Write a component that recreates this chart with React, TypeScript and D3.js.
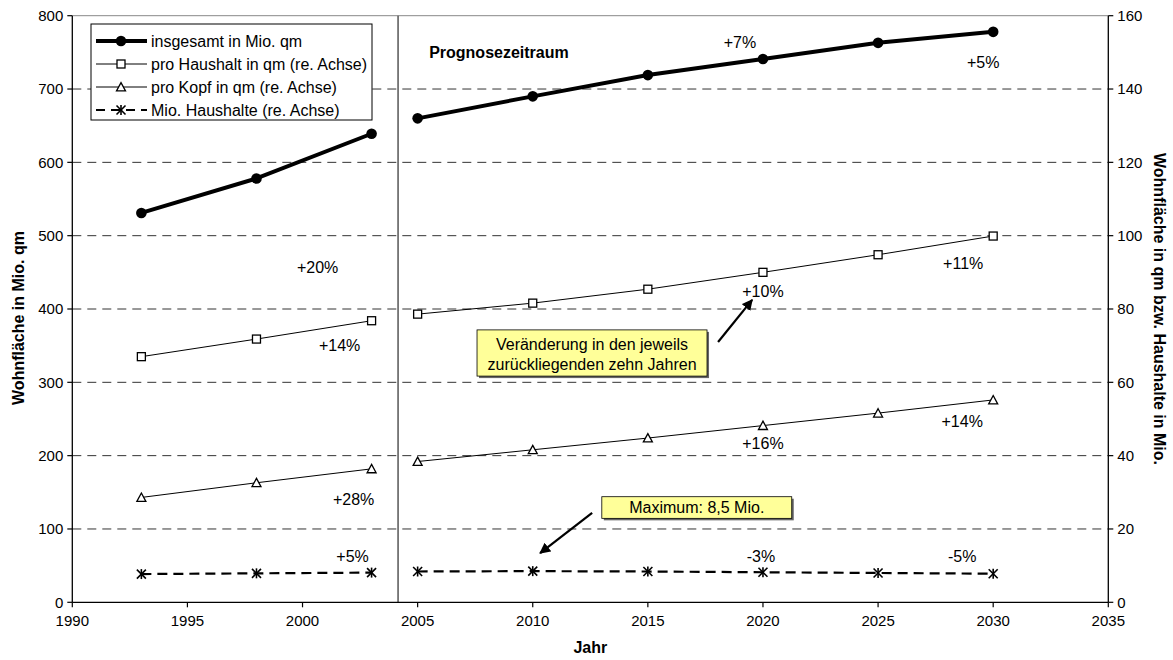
import React from "react";
import * as d3 from "d3";

// Years of the observed period and of the forecast period
const pastYears = [1993, 1998, 2003];
const forecastYears = [2005, 2010, 2015, 2020, 2025, 2030];

// Total living space in million m² (left axis)
const totalPast = [531, 578, 639];
const totalForecast = [660, 690, 719, 741, 763, 778];

// Living space per household in m² (right axis)
const perHouseholdPast = [67, 71.8, 76.8];
const perHouseholdForecast = [78.6, 81.6, 85.4, 90, 94.8, 99.9];

// Living space per capita in m² (right axis)
const perCapitaPast = [28.6, 32.6, 36.4];
const perCapitaForecast = [38.4, 41.6, 44.8, 48.2, 51.6, 55.2];

// Households in millions (right axis)
const householdsPast = [7.7, 7.9, 8.1];
const householdsForecast = [8.4, 8.5, 8.4, 8.2, 8.0, 7.8];

const xTicks = [1990, 1995, 2000, 2005, 2010, 2015, 2020, 2025, 2030, 2035];
const leftTicks = [0, 100, 200, 300, 400, 500, 600, 700, 800];
const rightTicks = [0, 20, 40, 60, 80, 100, 120, 140, 160];

const legendLabels = [
  "insgesamt in Mio. qm",
  "pro Haushalt in qm (re. Achse)",
  "pro Kopf in qm (re. Achse)",
  "Mio. Haushalte (re. Achse)",
];

const forecastStart = 2004.15;

const FONT = "'Liberation Sans', Arial, Helvetica, sans-serif";

const W = 1173;
const H = 660;
const left = 72.3;
const right = 1108.3;
const top = 15.7;
const bottom = 602.3;

const x = d3.scaleLinear().domain([1990, 2035]).range([left, right]);
const yL = d3.scaleLinear().domain([0, 800]).range([bottom, top]);
const yR = d3.scaleLinear().domain([0, 160]).range([bottom, top]);

type Pt = [number, number];
const pairs = (years: number[], vals: number[]): Pt[] =>
  years.map((yr, i) => [yr, vals[i]] as Pt);

function Square({ cx, cy }: { cx: number; cy: number }) {
  const s = 8;
  return <rect x={cx - s / 2} y={cy - s / 2} width={s} height={s} fill="#fff" stroke="#000" strokeWidth={1.3} />;
}
function Triangle({ cx, cy }: { cx: number; cy: number }) {
  const s = 9;
  const h = s * 0.87;
  return (
    <path
      d={`M${cx},${cy - h / 2 - 0.5}L${cx + s / 2},${cy + h / 2}L${cx - s / 2},${cy + h / 2}Z`}
      fill="#fff"
      stroke="#000"
      strokeWidth={1.3}
    />
  );
}
function Star({ cx, cy }: { cx: number; cy: number }) {
  const r = 4.5;
  return (
    <g stroke="#000" strokeWidth={1.6}>
      <line x1={cx - r} y1={cy - r} x2={cx + r} y2={cy + r} />
      <line x1={cx - r} y1={cy + r} x2={cx + r} y2={cy - r} />
      <line x1={cx} y1={cy - r - 0.5} x2={cx} y2={cy + r + 0.5} />
    </g>
  );
}
function Dot({ cx, cy }: { cx: number; cy: number }) {
  return <circle cx={cx} cy={cy} r={5.3} fill="#000" />;
}

type Series = {
  scale: d3.ScaleLinear<number, number>;
  segments: Pt[][];
  width: number;
  dash?: string;
  Marker: (p: { cx: number; cy: number }) => React.ReactElement;
};

const series: Series[] = [
  {
    scale: yL,
    segments: [pairs(pastYears, totalPast), pairs(forecastYears, totalForecast)],
    width: 4,
    Marker: Dot,
  },
  {
    scale: yR,
    segments: [pairs(pastYears, perHouseholdPast), pairs(forecastYears, perHouseholdForecast)],
    width: 1,
    Marker: Square,
  },
  {
    scale: yR,
    segments: [pairs(pastYears, perCapitaPast), pairs(forecastYears, perCapitaForecast)],
    width: 1,
    Marker: Triangle,
  },
  {
    scale: yR,
    segments: [pairs(pastYears, householdsPast), pairs(forecastYears, householdsForecast)],
    width: 2.2,
    dash: "10,6",
    Marker: Star,
  },
];

// Ten-year change labels, anchored to the data point they describe
type ChangeLabel = { text: string; year: number; value: number; scale: "L" | "R"; dx: number; dy: number };
const changeLabels: ChangeLabel[] = [
  { text: "+20%", year: 2003, value: totalPast[2], scale: "L", dx: -54, dy: 133 },
  { text: "+14%", year: 2003, value: perHouseholdPast[2], scale: "R", dx: -32, dy: 25 },
  { text: "+28%", year: 2003, value: perCapitaPast[2], scale: "R", dx: -18, dy: 30 },
  { text: "+5%", year: 2003, value: householdsPast[2], scale: "R", dx: -19, dy: -16 },
  { text: "+7%", year: 2020, value: totalForecast[3], scale: "L", dx: -23, dy: -17 },
  { text: "+5%", year: 2030, value: totalForecast[5], scale: "L", dx: -10, dy: 30 },
  { text: "+10%", year: 2020, value: perHouseholdForecast[3], scale: "R", dx: 0, dy: 19 },
  { text: "+11%", year: 2030, value: perHouseholdForecast[5], scale: "R", dx: -30, dy: 27 },
  { text: "+16%", year: 2020, value: perCapitaForecast[3], scale: "R", dx: 0, dy: 18 },
  { text: "+14%", year: 2030, value: perCapitaForecast[5], scale: "R", dx: -31, dy: 21 },
  { text: "-3%", year: 2020, value: householdsForecast[3], scale: "R", dx: -2, dy: -16 },
  { text: "-5%", year: 2030, value: householdsForecast[5], scale: "R", dx: -31, dy: -17 },
];

export default function App() {
  const line = (sc: d3.ScaleLinear<number, number>) =>
    d3
      .line<Pt>()
      .x((d) => x(d[0]))
      .y((d) => sc(d[1]));

  const gridVals = leftTicks.filter((v) => v > 0 && v < 800);

  // Annotation boxes placed in data coordinates (right axis)
  const box1 = { x1: x(2017.57), y0: yR(74.3), y1: yR(61.7) };
  const box1W = 230;
  const box2 = { x0: x(2013.0), x1: x(2021.25), y0: yR(28.8), y1: yR(22.9) };

  return (
    <div style={{ position: "absolute", left: 0, top: 0, width: W, height: H, background: "#fff" }}>
      <svg width={W} height={H} style={{ display: "block", fontFamily: FONT }}>
        <defs>
          <marker id="arrowHead" viewBox="0 0 10 10" refX="9" refY="5" markerWidth="5" markerHeight="5" orient="auto">
            <path d="M0,0L10,5L0,10Z" fill="#000" />
          </marker>
        </defs>
        <rect x={0} y={0} width={W} height={H} fill="#fff" />

        {/* gridlines */}
        {gridVals.map((v) => (
          <line key={v} x1={left} x2={right} y1={yL(v)} y2={yL(v)} stroke="#333" strokeWidth={1} strokeDasharray="9,6" />
        ))}
        <line x1={left} x2={right} y1={top} y2={top} stroke="#888" strokeWidth={1} />

        {/* start of the forecast period */}
        <line x1={x(forecastStart)} x2={x(forecastStart)} y1={top} y2={bottom} stroke="#555" strokeWidth={1.5} />

        {/* axes */}
        <line x1={left} x2={left} y1={top} y2={bottom} stroke="#000" strokeWidth={1.3} />
        <line x1={right} x2={right} y1={top} y2={bottom} stroke="#000" strokeWidth={1.3} />
        <line x1={left} x2={right} y1={bottom} y2={bottom} stroke="#000" strokeWidth={1.3} />

        {leftTicks.map((v) => (
          <g key={"l" + v}>
            <line x1={left - 5} x2={left} y1={yL(v)} y2={yL(v)} stroke="#000" strokeWidth={1.2} />
            <text x={left - 9} y={yL(v)} dy="0.36em" textAnchor="end" fontSize={15}>
              {v}
            </text>
          </g>
        ))}
        {rightTicks.map((v) => (
          <g key={"r" + v}>
            <line x1={right} x2={right + 5} y1={yR(v)} y2={yR(v)} stroke="#000" strokeWidth={1.2} />
            <text x={right + 9} y={yR(v)} dy="0.36em" textAnchor="start" fontSize={15}>
              {v}
            </text>
          </g>
        ))}
        {xTicks.map((v) => (
          <g key={"x" + v}>
            <line x1={x(v)} x2={x(v)} y1={bottom} y2={bottom + 5} stroke="#000" strokeWidth={1.2} />
            <text x={x(v)} y={bottom + 24} textAnchor="middle" fontSize={15}>
              {v}
            </text>
          </g>
        ))}

        {/* axis titles */}
        <text x={(left + right) / 2} y={653} textAnchor="middle" fontSize={16} fontWeight="bold">
          Jahr
        </text>
        <text
          transform={`translate(24,318) rotate(-90)`}
          textAnchor="middle"
          fontSize={16}
          fontWeight="bold"
        >
          Wohnfläche in Mio. qm
        </text>
        <text
          transform={`translate(1154,${(top + bottom) / 2}) rotate(90)`}
          textAnchor="middle"
          fontSize={16}
          fontWeight="bold"
        >
          Wohnfläche in qm bzw. Haushalte in Mio.
        </text>

        {/* series */}
        {series.map((s, i) => (
          <g key={"s" + i}>
            {s.segments.map((seg, j) => (
              <path
                key={j}
                d={line(s.scale)(seg) || ""}
                fill="none"
                stroke="#000"
                strokeWidth={s.width}
                strokeDasharray={s.dash}
              />
            ))}
            {s.segments.flat().map((p, k) => (
              <s.Marker key={k} cx={x(p[0])} cy={s.scale(p[1])} />
            ))}
          </g>
        ))}

        {/* change labels */}
        {changeLabels.map((c, i) => {
          const sc = c.scale === "L" ? yL : yR;
          return (
            <text key={"c" + i} x={x(c.year) + c.dx} y={sc(c.value) + c.dy} dy="0.36em" textAnchor="middle" fontSize={16}>
              {c.text}
            </text>
          );
        })}

        <text x={x(2005.5)} y={52} dy="0.36em" fontSize={16} fontWeight="bold">
          Prognosezeitraum
        </text>

        {/* annotation: explanation of percentages */}
        <rect x={box1.x1 - box1W + 2} y={box1.y0 + 2} width={box1W} height={box1.y1 - box1.y0} fill="#666" />
        <rect x={box1.x1 - box1W} y={box1.y0} width={box1W} height={box1.y1 - box1.y0} fill="#FFFF99" stroke="#000" strokeWidth={0.8} />
        <text x={box1.x1 - box1W / 2} y={box1.y0 + 14} dy="0.36em" textAnchor="middle" fontSize={16}>
          Veränderung in den jeweils
        </text>
        <text x={box1.x1 - box1W / 2} y={box1.y0 + 34} dy="0.36em" textAnchor="middle" fontSize={16}>
          zurückliegenden zehn Jahren
        </text>
        <line
          x1={x(2018.05)}
          y1={yR(71.0)}
          x2={x(2019.53)}
          y2={yR(82.5)}
          stroke="#000"
          strokeWidth={2.2}
          markerEnd="url(#arrowHead)"
        />

        {/* annotation: household maximum */}
        <rect x={box2.x0 + 2} y={box2.y0 + 2} width={box2.x1 - box2.x0} height={box2.y1 - box2.y0} fill="#666" />
        <rect x={box2.x0} y={box2.y0} width={box2.x1 - box2.x0} height={box2.y1 - box2.y0} fill="#FFFF99" stroke="#000" strokeWidth={0.8} />
        <text x={(box2.x0 + box2.x1) / 2} y={(box2.y0 + box2.y1) / 2} dy="0.36em" textAnchor="middle" fontSize={16}>
          Maximum: 8,5 Mio.
        </text>
        <line
          x1={x(2012.58)}
          y1={yR(24.4)}
          x2={x(2010.32)}
          y2={yR(13.4)}
          stroke="#000"
          strokeWidth={2.2}
          markerEnd="url(#arrowHead)"
        />

        {/* legend */}
        <rect x={91} y={24} width={281} height={96} fill="#fff" stroke="#000" strokeWidth={1} />
        {series.map((s, i) => {
          const ly = 41 + i * 23;
          return (
            <g key={"lg" + i}>
              <line x1={96} x2={147} y1={ly} y2={ly} stroke="#000" strokeWidth={s.width} strokeDasharray={s.dash ? "9,6" : undefined} />
              <s.Marker cx={121} cy={ly} />
              <text x={151} y={ly} dy="0.36em" fontSize={16}>
                {legendLabels[i]}
              </text>
            </g>
          );
        })}
      </svg>
    </div>
  );
}
